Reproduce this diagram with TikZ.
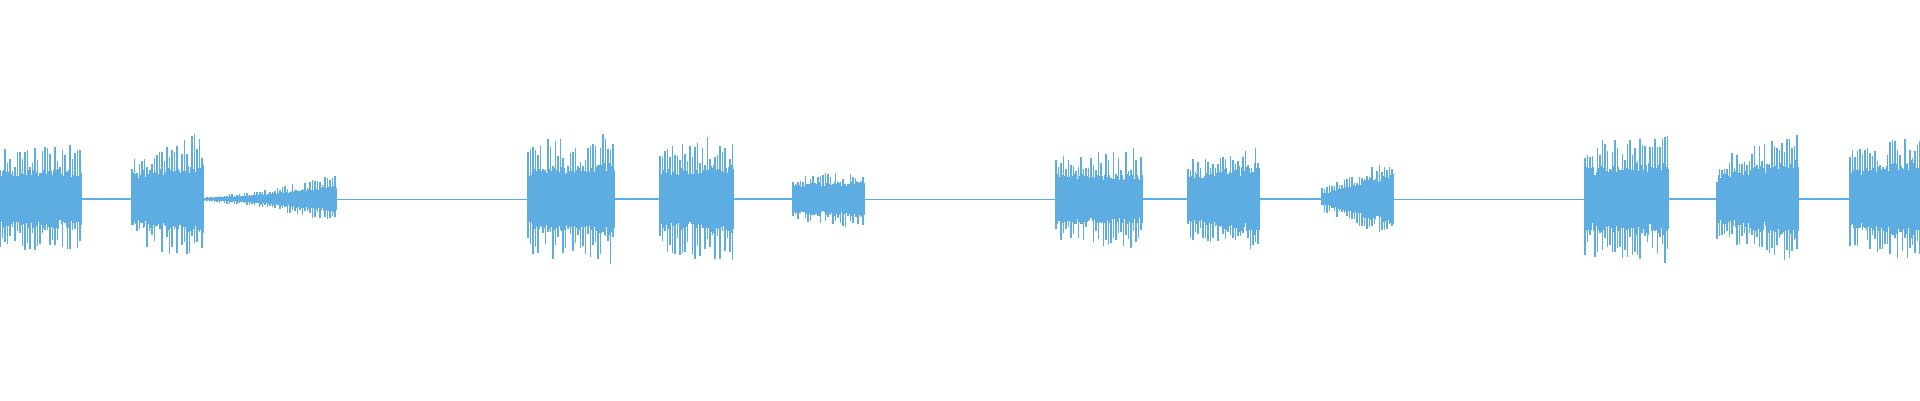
\documentclass[tikz,border=0pt]{standalone}
\definecolor{wave}{RGB}{93,173,226}
\pgfmathsetseed{7}
\newcommand{\wburst}[6]{% x0 x1 core0 core1 peak0 peak1
  \fill[wave] (#1,{199+0.75*#3}) -- (#2,{199+0.75*#4}) -- (#2,{199-0.75*#4}) -- (#1,{199-0.75*#3}) -- cycle;
  \pgfmathtruncatemacro{\nn}{(#2-#1)/2.5}
  \foreach \i in {0,...,\nn}{
    \pgfmathsetmacro{\t}{\i/\nn}
    \pgfmathsetmacro{\c}{#3+(#4-#3)*\t}
    \pgfmathsetmacro{\p}{#5+(#6-#5)*\t}
    \pgfmathsetmacro{\hu}{0.75*\c+(\p-0.75*\c)*rnd^0.6}
    \pgfmathsetmacro{\hd}{0.75*\c+(\p-0.75*\c)*rnd^0.6}
    \pgfmathsetmacro{\mu}{\c*(0.85+0.3*rnd)}
    \draw[wave,line width=1.3pt] ({#1+\i*2.5},{199+\hu}) -- ({#1+\i*2.5},{199-\hd});
    \draw[wave,line width=1.3pt] ({#1+\i*2.5+1.25},{199+\mu}) -- ({#1+\i*2.5+1.25},{199-\mu});
  }}
\begin{document}
\begin{tikzpicture}[x=1pt,y=-1pt]
\useasboundingbox (0,0) rectangle (1920,400);
\tikzset{thin wave/.style={wave,line width=1pt}}
% baseline segments
\draw[thin wave,line width=1.5pt] (82,199) -- (132,199);
\draw[thin wave,line width=0.5pt] (335,199) -- (528,199);
\draw[thin wave,line width=1.5pt] (613,199) -- (660,199);
\draw[thin wave,line width=1.5pt] (733,199) -- (793,199);
\draw[thin wave,line width=0.5pt] (863,199) -- (1056,199);
\draw[thin wave,line width=1.5pt] (1141,199) -- (1188,199);
\draw[thin wave,line width=2.5pt] (1260,199) -- (1322,199);
\draw[thin wave,line width=0.8pt] (1392,199) -- (1585,199);
\draw[thin wave,line width=2pt] (1668,199) -- (1717,199);
\draw[thin wave,line width=2pt] (1797,199) -- (1850,199);
% bursts
\wburst{0}{82}{26}{26}{50}{55}
\wburst{132}{202}{24}{32}{45}{68}
\wburst{202}{260}{1}{4}{2}{8}
\wburst{260}{335}{4}{12}{8}{24}
\wburst{528}{613}{26}{32}{60}{68}
\wburst{660}{733}{26}{32}{55}{68}
\wburst{793}{863}{14}{16}{22}{30}
\wburst{1056}{1141}{22}{22}{42}{52}
\wburst{1188}{1260}{22}{32}{40}{52}
\wburst{1322}{1392}{6}{24}{12}{40}
\wburst{1585}{1668}{30}{32}{58}{66}
\wburst{1717}{1797}{22}{36}{42}{66}
\wburst{1850}{1920}{26}{36}{50}{66}
\end{tikzpicture}
\end{document}
